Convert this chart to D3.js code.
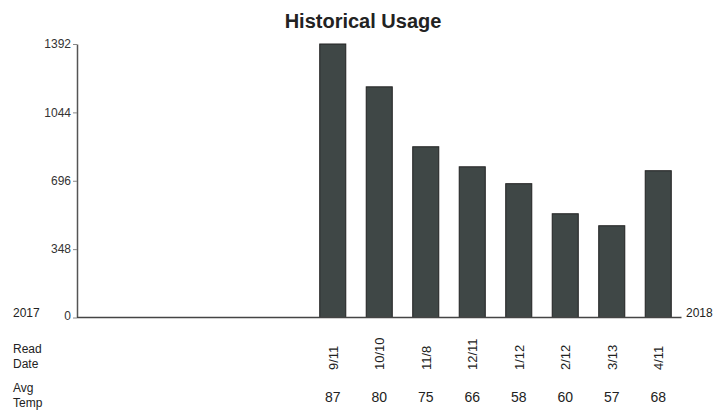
<!DOCTYPE html>
<html>
<head>
<meta charset="utf-8">
<script src="https://cdn.jsdelivr.net/npm/d3@7"></script>
<style>
  body { margin: 0; background: #fff; }
  text { font-family: "Liberation Sans", Arial, sans-serif; fill: #222; }
</style>
</head>
<body>
<div id="chart-area"></div>
<script>
// 13 monthly slots, the first five have no reading
const readDates = ["", "", "", "", "", "9/11", "10/10", "11/8", "12/11", "1/12", "2/12", "3/13", "4/11"];
const usage = [null, null, null, null, null, 1392, 1174, 869, 767, 681, 528, 467, 747];
const avgTemps = ["", "", "", "", "", 87, 80, 75, 66, 58, 60, 57, 68];
const yTicks = [0, 348, 696, 1044, 1392];

const WIDTH = 726, HEIGHT = 413;
const MARGIN = { LEFT: 77, RIGHT: 45, TOP: 44, BOTTOM: 95 };

const svg = d3.select("#chart-area").append("svg")
  .attr("width", WIDTH)
  .attr("height", HEIGHT);

const x = d3.scaleBand()
  .domain(d3.range(readDates.length))
  .range([MARGIN.LEFT, WIDTH - MARGIN.RIGHT + 0.5])
  .paddingInner(0.44)
  .paddingOuter(0.22);

const y = d3.scaleLinear()
  .domain([0, 1392])
  .range([HEIGHT - MARGIN.BOTTOM - 0.5, MARGIN.TOP]);

svg.append("text")
  .attr("x", 363)
  .attr("y", 28)
  .attr("text-anchor", "middle")
  .style("font-size", "20px")
  .style("font-weight", "bold")
  .text("Historical Usage");

// bars
svg.append("g").selectAll("rect")
  .data(usage.map((v, i) => ({ i, v })).filter(d => d.v != null))
  .enter().append("rect")
  .attr("x", d => x(d.i))
  .attr("y", d => y(d.v))
  .attr("width", x.bandwidth())
  .attr("height", d => y(0) - y(d.v))
  .attr("fill", "#3f4746")
  .attr("stroke", "#222")
  .attr("stroke-width", 1);

// y axis
const yAxis = svg.append("g")
  .attr("transform", `translate(${MARGIN.LEFT},0)`)
  .call(d3.axisLeft(y).tickValues(yTicks).tickFormat(d3.format("d"))
    .tickSize(4).tickPadding(2).tickSizeOuter(0));
yAxis.select(".domain").attr("stroke", "#555").attr("stroke-width", 1.5);
yAxis.selectAll(".tick line").attr("stroke", "#888");
yAxis.selectAll(".tick text")
  .style("font-size", "12px")
  .style("fill", "#333")
  .attr("dy", d => d === 0 ? "0.2em" : "0.32em");

// baseline
svg.append("line")
  .attr("x1", MARGIN.LEFT)
  .attr("x2", x.range()[1])
  .attr("y1", y(0))
  .attr("y2", y(0))
  .attr("stroke", "#444")
  .attr("stroke-width", 1.5);

svg.append("text").attr("x", 13).attr("y", 317).style("font-size", "12px").text("2017");
svg.append("text").attr("x", 686).attr("y", 317).style("font-size", "12px").text("2018");

// row headers
const rowLabel = (lines, y0) => {
  const t = svg.append("text").attr("x", 13).attr("y", y0).style("font-size", "12px");
  lines.forEach((l, k) => t.append("tspan").attr("x", 13).attr("dy", k ? 15 : 0).text(l));
};
rowLabel(["Read", "Date"], 353);
rowLabel(["Avg", "Temp"], 392);

// rotated read dates
svg.append("g").selectAll("text")
  .data(readDates.map((d, i) => ({ i, d })).filter(d => d.d))
  .enter().append("text")
  .attr("transform", d => `translate(${x(d.i) + x.bandwidth() / 2 + 5},370) rotate(-90)`)
  .style("font-size", "13px")
  .text(d => d.d);

// avg temps
svg.append("g").selectAll("text")
  .data(avgTemps.map((t, i) => ({ i, t })).filter(d => d.t !== ""))
  .enter().append("text")
  .attr("x", d => x(d.i) + x.bandwidth() / 2)
  .attr("y", 402)
  .attr("text-anchor", "middle")
  .style("font-size", "14px")
  .text(d => d.t);
</script>
</body>
</html>
